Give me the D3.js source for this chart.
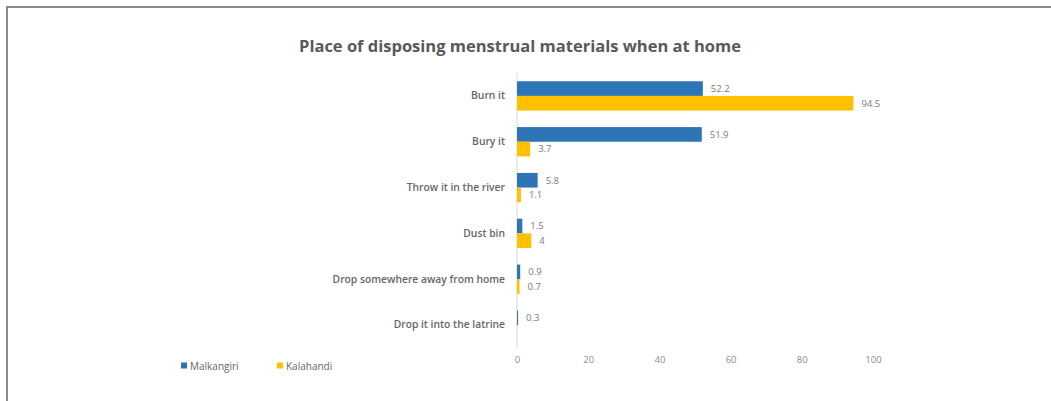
<!DOCTYPE html>
<html>
<head>
<meta charset="utf-8">
<script src="https://cdn.jsdelivr.net/npm/d3@7/dist/d3.min.js"></script>
<style>
  html, body { margin: 0; padding: 0; background: #fff; }
  svg { display: block; }
  text { font-family: "Open Sans", "Liberation Sans", sans-serif; }
</style>
</head>
<body>
<svg id="chart" width="1051" height="401"></svg>
<script>
// Survey responses (%) by district
const categories = [
  "Burn it",
  "Bury it",
  "Throw it in the river",
  "Dust bin",
  "Drop somewhere away from home",
  "Drop it into the latrine"
];
const malkangiri = [52.2, 51.9, 5.8, 1.5, 0.9, 0.3];
const kalahandi  = [94.5, 3.7, 1.1, 4, 0.7, null];
const seriesNames = ["Malkangiri", "Kalahandi"];
const xTicks = [0, 20, 40, 60, 80, 100];

const colors = ["#2E75B6", "#FFC000"];
const textGray = "#595959";

const svg = d3.select("#chart");

// frame around the figure
svg.append("path")
  .attr("d", "M7,401 L7,7 L1051,7")
  .attr("fill", "none")
  .attr("stroke", "#8a8a8a")
  .attr("stroke-width", 2);

const plot = { left: 517, right: 873, top: 73, bottom: 348 };

const x = d3.scaleLinear().domain([0, 100]).range([plot.left, plot.right]);
const y = d3.scaleBand().domain(categories).range([plot.top, plot.bottom]).paddingInner(0.36).paddingOuter(0.18);
const inner = d3.scaleBand().domain(seriesNames).range([0, y.bandwidth()]);

// title
svg.append("text")
  .attr("x", 520).attr("y", 52)
  .attr("text-anchor", "middle")
  .attr("font-size", 16.5)
  .attr("font-weight", 700)
  .attr("fill", textGray)
  .text("Place of disposing menstrual materials when at home");

// vertical value axis baseline
svg.append("line")
  .attr("x1", x(0)).attr("x2", x(0))
  .attr("y1", plot.top).attr("y2", plot.bottom)
  .attr("stroke", "#d9d9d9").attr("stroke-width", 1);

// x axis tick labels
const xAxis = d3.axisBottom(x).tickValues(xTicks).tickSize(0).tickPadding(0);
const gx = svg.append("g").attr("transform", `translate(0,${plot.bottom + 8})`).call(xAxis);
gx.select(".domain").remove();
gx.selectAll("text")
  .attr("font-size", 9.5)
  .attr("fill", "#8c8c8c")
  .style("font-family", "'Open Sans', sans-serif");

// category labels
const yAxis = d3.axisLeft(y).tickSize(0).tickPadding(12);
const gy = svg.append("g").attr("transform", `translate(${x(0)},0)`).call(yAxis);
gy.select(".domain").remove();
gy.selectAll("text")
  .attr("font-size", 10.3)
  .attr("font-weight", 600)
  .attr("fill", "#666")
  .style("font-family", "'Open Sans', sans-serif");

// bars
const rows = categories.map((c, i) => ({
  cat: c,
  vals: [
    { s: seriesNames[0], v: malkangiri[i], k: 0 },
    { s: seriesNames[1], v: kalahandi[i], k: 1 }
  ].filter(d => d.v !== null)
}));

const groups = svg.selectAll("g.cat").data(rows).join("g")
  .attr("class", "cat")
  .attr("transform", d => `translate(0,${y(d.cat)})`);

groups.selectAll("rect").data(d => d.vals).join("rect")
  .attr("x", x(0))
  .attr("y", d => inner(d.s))
  .attr("width", d => x(d.v) - x(0))
  .attr("height", inner.bandwidth())
  .attr("fill", d => colors[d.k]);

groups.selectAll("text.val").data(d => d.vals).join("text")
  .attr("class", "val")
  .attr("x", d => x(d.v) + 8)
  .attr("y", d => inner(d.s) + inner.bandwidth() / 2)
  .attr("dy", "0.35em")
  .attr("font-size", 9.5)
  .attr("fill", "#7a7a7a")
  .text(d => d.v);

// legend
const legend = svg.append("g").attr("transform", "translate(181,366)");
const li = legend.selectAll("g").data(seriesNames).join("g")
  .attr("transform", (d, i) => `translate(${i * 96},0)`);
li.append("rect")
  .attr("x", 0).attr("y", -3.5).attr("width", 6).attr("height", 6)
  .attr("fill", (d, i) => colors[i]);
li.append("text")
  .attr("x", 9).attr("y", 0).attr("dy", "0.35em")
  .attr("font-size", 10)
  .attr("fill", "#666")
  .text(d => d);
</script>
</body>
</html>
